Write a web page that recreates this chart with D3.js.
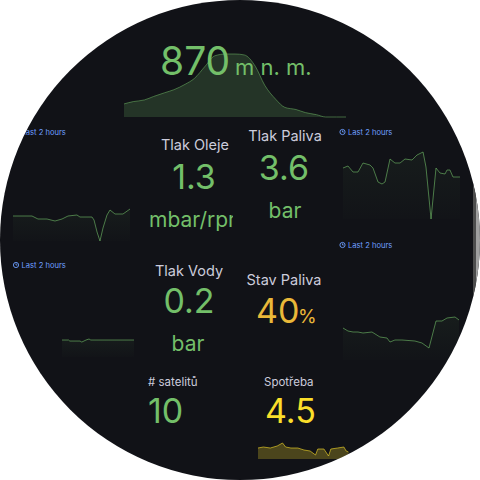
<!DOCTYPE html>
<html><head><meta charset="utf-8">
<script src="https://cdn.jsdelivr.net/npm/d3@7"></script>
<style>html,body{margin:0;padding:0;background:#fff;} svg{display:block;font-family:Inter,"Noto Sans",sans-serif;}</style>
</head><body><svg id="c" width="480" height="480"></svg>
<script>
// ---- data ----
const elevTimes = [0,5,11,16,22,27,33,38,44,49,55,60,65,71,76,82,87,93,98,104,109,115,120];
const elevValues = [656,666,673,688,704,717,740,765,819,862,870,870,866,817,737,676,641,632,619,610,600,600,600];

const oilTimes = [0,19.5,25.6,34.9,43.1,50.3,56.4,65.6,68.7,81,83.1,86.2,89.2,92.3,96.4,99.5,104.6,112.8,120];
const oilValues = [1.25,1.25,1.22,1.22,1.20,1.22,1.25,1.26,1.24,1.24,1.21,1.09,1.00,1.13,1.26,1.31,1.27,1.27,1.32];

const fuelPTimes = [0,5.1,10.3,15.4,20.5,27.7,30.8,35.9,40,43.1,48.2,53.3,58.5,63.6,70.8,75.9,82.1,85.1,90.3,95.4,99.5,104.6,106.7,109.7,112.8,120];
const fuelPValues = [3.87,3.93,3.75,3.75,4.02,3.96,3.87,3.45,3.39,3.45,4.14,4.02,4.02,4.14,4.11,4.26,4.35,3.90,2.34,3.87,3.72,3.69,3.81,3.81,3.60,3.60];

const waterTimes = [0,11,13,30,33,40,45,48,50,120];
const waterValues = [0.200,0.200,0.188,0.188,0.176,0.200,0.212,0.200,0.200,0.200];

const fuelLTimes = [0,5.1,10.3,15.4,20.5,29.7,37.9,45.1,48.2,53.3,60.5,73.8,81,88.2,95.4,101.5,106.7,114.9,119];
const fuelLValues = [38,37.25,37,37,36.75,37,35.75,35.5,34.5,35,35,34.75,34.25,33,39.75,39.75,40.5,40.75,40];

const consTimes = [0,7,16,25,32,36,43,52,60,68,75,78,86,92,95,104,112,115,118];
const consValues = [4.9,5.0,4.9,5.1,5.4,5.0,4.9,4.9,4.7,4.6,4.2,4.8,4.8,4.1,4.8,4.9,5.0,4.6,4.5];

const statTitles = ["Tlak Oleje","Tlak Paliva","Tlak Vody","Stav Paliva","# satelitů","Spotřeba"];
const statValues = ["1.3","3.6","0.2","40","10","4.5"];
const statUnits = ["mbar/rpm","bar","bar","%","",""];
const elevValue = "870";
const elevUnit = "m n. m.";
const rangeLabel = "Last 2 hours";

// ---- drawing ----
const GREEN = "#73bf69", YEL = "#fade2a", ORANGE = "#eab839", BG = "#111217";
const svg = d3.select("#c");
const defs = svg.append("defs");
defs.append("clipPath").attr("id","circ").append("circle").attr("cx",240).attr("cy",240).attr("r",240);
defs.append("clipPath").attr("id","unitclip").append("rect").attr("x",130).attr("y",190).attr("width",103).attr("height",50);
const gr = defs.append("linearGradient").attr("id","gfade").attr("x1",0).attr("y1",0).attr("x2",0).attr("y2",1);
gr.append("stop").attr("offset","0%").attr("stop-color",GREEN).attr("stop-opacity",0.06);
gr.append("stop").attr("offset","100%").attr("stop-color",GREEN).attr("stop-opacity",0.01);

svg.append("rect").attr("width",480).attr("height",480).attr("fill","#fff");
const g = svg.append("g").attr("clip-path","url(#circ)");
g.append("rect").attr("width",480).attr("height",480).attr("fill",BG);

function spark(times, vals, xr, yd, yr, fill, fillOp, stroke, strokeOp, curve) {
  const x = d3.scaleLinear().domain([0,120]).range(xr);
  const y = d3.scaleLinear().domain(yd).range(yr);
  const area = d3.area().x((d,i)=>x(times[i])).y0(yr[0]).y1(d=>y(d)).curve(curve||d3.curveLinear);
  const line = d3.line().x((d,i)=>x(times[i])).y(d=>y(d)).curve(curve||d3.curveLinear);
  g.append("path").attr("d",area(vals)).attr("fill",fill).attr("fill-opacity",fillOp);
  g.append("path").attr("d",line(vals)).attr("fill","none").attr("stroke",stroke).attr("stroke-opacity",strokeOp).attr("stroke-width",1);
}

// top elevation panel
spark(elevTimes, elevValues, [124,346], [600,870], [117,54], GREEN, 0.2, GREEN, 0.5, d3.curveMonotoneX);
g.append("text").attr("x",160).attr("y",75).attr("fill",GREEN).attr("font-size",39).text(elevValue);
g.append("text").attr("x",235).attr("y",75).attr("fill",GREEN).attr("font-size",22).text(elevUnit);

// sparklines
spark(oilTimes, oilValues, [13,130], [1.00,1.32], [241,209], "url(#gfade)", 1, GREEN, 0.6);
spark(fuelPTimes, fuelPValues, [343,460], [2.34,4.35], [219,152], "url(#gfade)", 1, GREEN, 0.6);
spark(waterTimes, waterValues, [62,134], [0,0.212], [357,339], "url(#gfade)", 1, GREEN, 0.6);
spark(fuelLTimes, fuelLValues, [343,460], [30,40.75], [360,317], "url(#gfade)", 1, GREEN, 0.6);
spark(consTimes, consValues, [258,350], [3.8,5.4], [459,443], YEL, 0.25, YEL, 0.6);

// "Last 2 hours" labels
function timeLabel(cx, cy) {
  const lg = g.append("g").attr("fill","none").attr("stroke","#6e9fff");
  lg.append("circle").attr("cx",cx).attr("cy",cy).attr("r",2.6).attr("stroke-width",0.9);
  lg.append("path").attr("d",`M${cx},${cy-1.6}V${cy}H${cx+1.3}`).attr("stroke-width",0.8);
  g.append("text").attr("x",cx+5.5).attr("y",cy+2.7).attr("fill","#6e9fff").attr("font-size",7.6).text(rangeLabel);
}
timeLabel(16,132); timeLabel(342.5,132); timeLabel(16,265); timeLabel(342.5,245);

// stat titles
const TITLE = "#ccccdc";
const titlePos = [[195,150,14.5,"middle"],[285,141,14.5,"middle"],[189,276,14.5,"middle"],[284,285,14.5,"middle"],[148,386,11.5,"start"],[264,386,11.5,"start"]];
statTitles.forEach((t,i)=>{
  const p = titlePos[i];
  g.append("text").attr("x",p[0]).attr("y",p[1]).attr("font-size",p[2]).attr("text-anchor",p[3]).attr("fill",TITLE).text(t);
});
// stat values
const valPos = [[194,189,"middle",GREEN],[284,180,"middle",GREEN],[189,313,"middle",GREEN],[256,323,"start",ORANGE],[148,423,"start",GREEN],[265,423,"start",YEL]];
statValues.forEach((v,i)=>{
  const p = valPos[i];
  g.append("text").attr("x",p[0]).attr("y",p[1]).attr("font-size",34).attr("text-anchor",p[2]).attr("fill",p[3]).text(v);
});
// units
g.append("g").attr("clip-path","url(#unitclip)").append("text").attr("x",149).attr("y",227).attr("font-size",21).attr("fill",GREEN).text(statUnits[0]);
g.append("text").attr("x",285).attr("y",218).attr("font-size",21).attr("text-anchor","middle").attr("fill",GREEN).text(statUnits[1]);
g.append("text").attr("x",188).attr("y",351).attr("font-size",21).attr("text-anchor","middle").attr("fill",GREEN).text(statUnits[2]);
g.append("text").attr("x",298).attr("y",323).attr("font-size",19).attr("fill",ORANGE).text(statUnits[3]);

// scrollbar
g.append("rect").attr("x",473).attr("y",183).attr("width",3).attr("height",114).attr("fill","#4d4d4d");
g.append("rect").attr("x",476).attr("y",190).attr("width",4).attr("height",100).attr("fill","#a0a0a0");
</script></body></html>
